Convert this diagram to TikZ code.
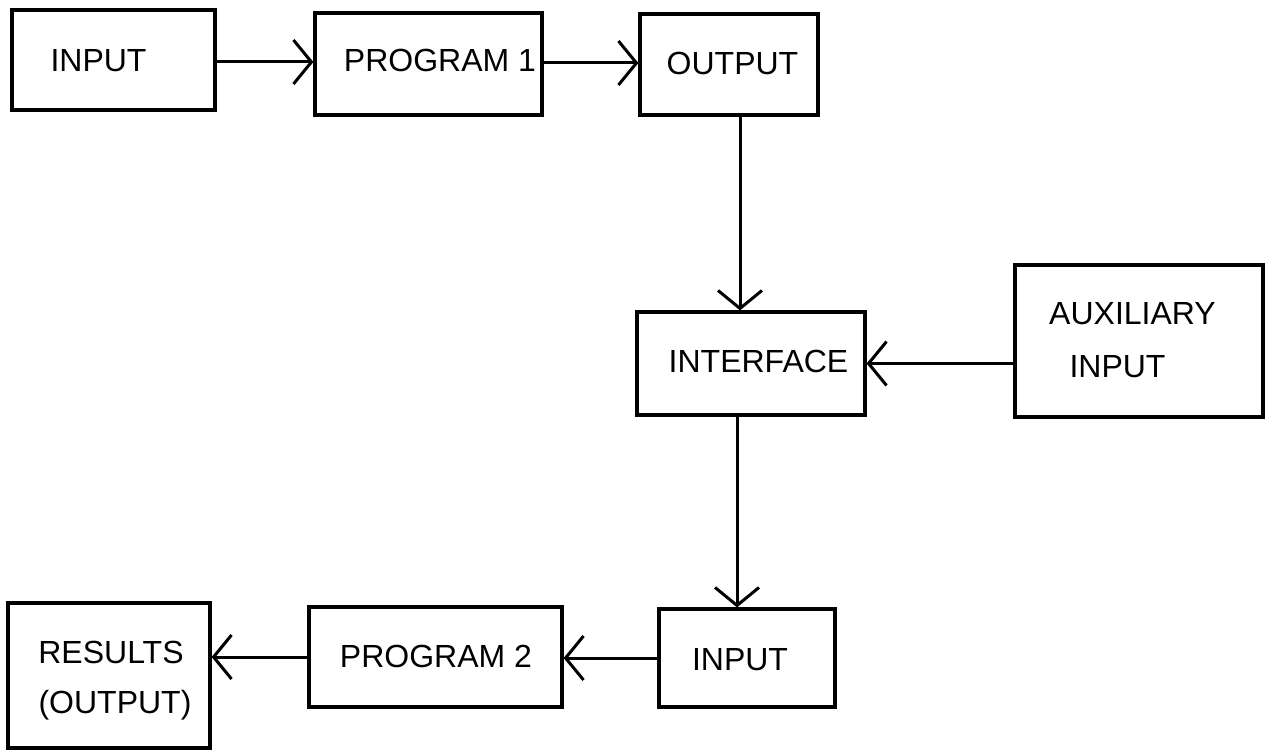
\documentclass[tikz,border=0pt]{standalone}
\usepackage{fontspec}
\setmainfont{Liberation Sans}
\usetikzlibrary{arrows.meta}
\begin{document}
\begin{tikzpicture}[x=1pt,y=-1pt,
  box/.style={draw=black, line width=3.2pt, rectangle, inner sep=0pt, fill=none},
  lbl/.style={anchor=base, inner sep=0pt, font=\fontsize{32}{38}\selectfont},
  arr/.style={draw=black, line width=3pt, -{Straight Barb[length=18pt,width=44pt,line width=3pt]}}]
\useasboundingbox (0,0) rectangle (1269,751);
% boxes
\node[box, minimum width=203pt, minimum height=100pt] (in1) at (113.5,60) {};
\node[box, minimum width=227pt, minimum height=102pt] (p1) at (428.5,64) {};
\node[box, minimum width=178pt, minimum height=101pt] (out1) at (729,64.5) {};
\node[box, minimum width=228pt, minimum height=103pt] (intf) at (751,363.5) {};
\node[box, minimum width=248pt, minimum height=152pt] (aux) at (1139,341) {};
\node[box, minimum width=176pt, minimum height=98pt] (in2) at (747,658) {};
\node[box, minimum width=253pt, minimum height=100pt] (p2) at (435.5,657) {};
\node[box, minimum width=202pt, minimum height=145pt] (res) at (109,675.5) {};
% labels
\node[lbl] (tin1) at (98.5,72) {INPUT};
\node[lbl] (tp1) at (440,72) {PROGRAM 1};
\node[lbl] (tout1) at (732.5,75) {OUTPUT};
\node[lbl] (tintf) at (758.5,372) {INTERFACE};
\node[lbl] (taux1) at (1132.5,325) {AUXILIARY};
\node[lbl] (taux2) at (1117.5,377) {INPUT};
\node[lbl] (tin2) at (740,670) {INPUT};
\node[lbl] (tp2) at (436,667) {PROGRAM 2};
\node[lbl] (tres1) at (111,663) {RESULTS};
\node[lbl] (tres2) at (115,713) {(OUTPUT)};
% connectors
\draw[arr] ([yshift=-2pt]in1.east) -- ([yshift=-2pt]in1.east -| p1.west);
\draw[arr] ([yshift=1pt]p1.east) -- ([yshift=1pt]p1.east -| out1.west);
\draw[arr] ([xshift=11pt]out1.south) -- ([xshift=11pt]out1.south |- intf.north);
\draw[arr] (aux.west |- intf.east) -- (intf.east);
\draw[arr] ([xshift=-14pt]intf.south) -- ([xshift=-14pt]intf.south |- in2.north);
\draw[arr] (in2.west) -- (in2.west -| p2.east);
\draw[arr] (p2.west) -- (p2.west -| res.east);
\end{tikzpicture}
\end{document}
